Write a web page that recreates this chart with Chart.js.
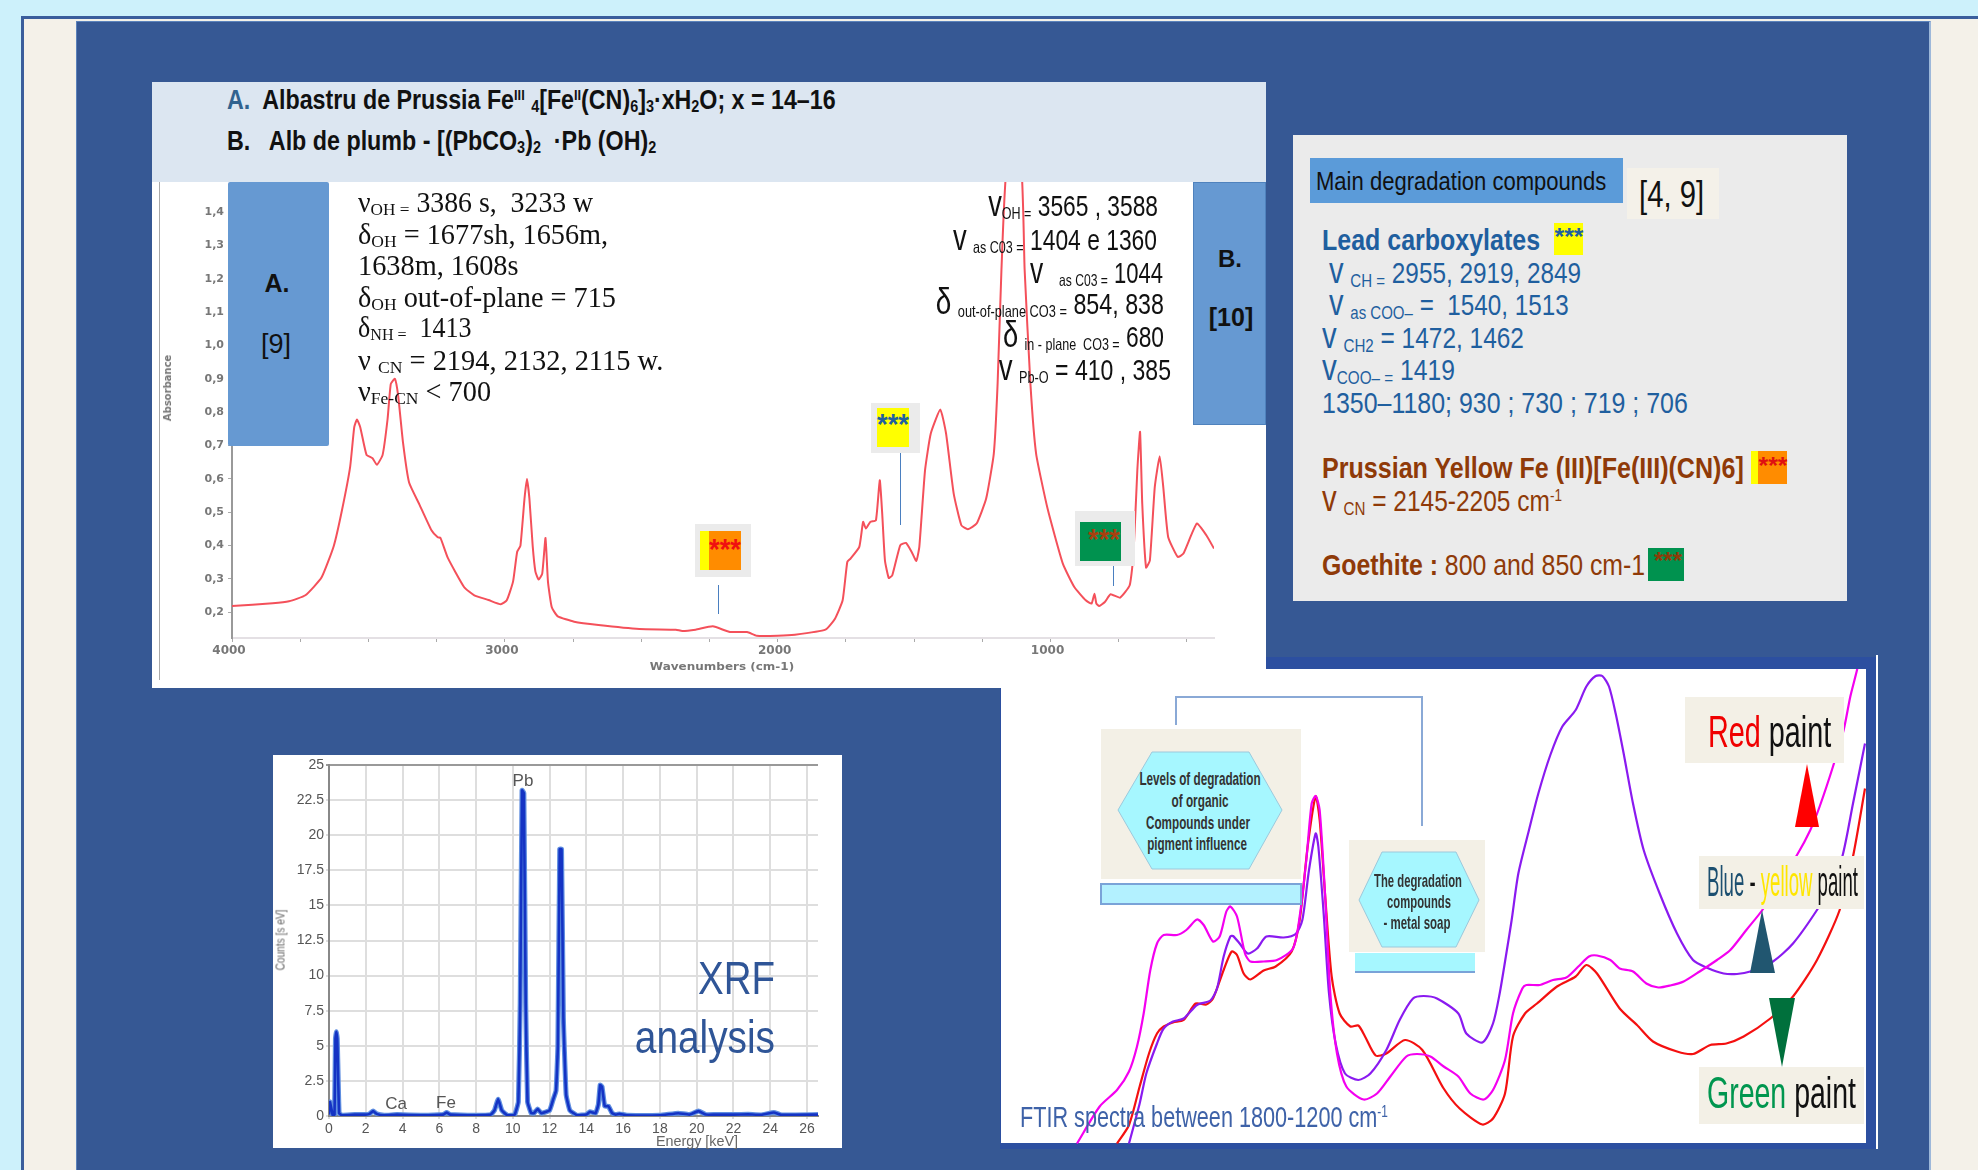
<!DOCTYPE html>
<html>
<head>
<meta charset="utf-8">
<title>FTIR and XRF analysis</title>
<script src="https://cdn.jsdelivr.net/npm/chart.js@4"></script>
<style>
    html, body { margin: 0; padding: 0; width: 1978px; height: 1170px; overflow: hidden; background: #cdf1fb; }
    body { position: relative; font-family: "Liberation Sans", Arial, sans-serif; }
    .box, .t, canvas { position: absolute; }
    .t { white-space: pre; line-height: 1; transform: translateY(-50%) scaleX(var(--k, 1)); transform-origin: left center; }
    .r { transform: translate(-100%, -50%) scaleX(var(--k, 1)); transform-origin: right center; }
    .c { transform: translate(-50%, -50%) scaleX(var(--k, 1)); transform-origin: center; text-align: center; }
    .serif { font-family: "Liberation Serif", serif; font-size: 28.5px; color: #111; }
    .blk { font-size: 30px; color: #111; }
    .blk sub { font-size: 55%; }
    .blue { font-size: 30px; color: #1f5f9f; }
    .brown { font-size: 30px; color: #8f3a08; }
    .mono { font-family: "DejaVu Sans", sans-serif; font-weight: bold; font-size: 11px; color: #777; }
    .big { font-size: 1.2em; }
    sub { font-size: 62%; vertical-align: -0.2em; line-height: 0; }
    sup { font-size: 55%; vertical-align: 0.6em; line-height: 0; }
    .hex { font-size: 19px; font-weight: bold; color: #333; }
    .star { font-weight: bold; font-size: 30px; }
</style>
</head>
<body>
<div class="box" style="left:21px;top:16px;width:1957px;height:1154px;background:#f4f1e9;border-left:3px solid #3a5e9c;border-top:3px solid #3a5e9c;box-sizing:border-box"></div>
<div class="box" style="left:76px;top:21px;width:1855px;height:1149px;background:#365894;border-left:1px solid #5b82bb;border-right:2px solid #9db8da;border-top:1px solid #5b82bb;box-sizing:border-box"></div>

<!-- FTIR frame sits under the first panel -->
<div class="box" style="left:1000px;top:657px;width:876px;height:492px;background:#2c4fa0"></div>
<div class="box" style="left:1876px;top:655px;width:2px;height:494px;background:#fff"></div>
<div class="box" style="left:1001px;top:669px;width:865px;height:474px;background:#fff"></div>

<!-- panel 1 -->
<div class="box" style="left:152px;top:82px;width:1114px;height:100px;background:#dce6f1"></div>
<div class="box" style="left:152px;top:182px;width:1114px;height:506px;background:#fff"></div>
<div class="box" style="left:159px;top:182px;width:1px;height:498px;background:#aaa"></div>
<canvas id="spectrumChart" width="1114" height="506" style="left:152px;top:182px"></canvas>

<div class="t" data-w="609" style="left:227px;top:100px;font-size:28px;font-weight:bold;color:#111"><span style="color:#31628f">A.</span>  Albastru de Prussia Fe<sup>III</sup> <sub>4</sub>[Fe<sup>II</sup>(CN)<sub>6</sub>]<sub>3</sub>·xH<sub>2</sub>O; x = 14–16</div>
<div class="t" data-w="429" style="left:227px;top:141px;font-size:28px;font-weight:bold;color:#111">B.   Alb de plumb - [(PbCO<sub>3</sub>)<sub>2</sub>  ·Pb (OH)<sub>2</sub></div>

<div class="box" style="left:228px;top:182px;width:101px;height:264px;background:#6699d2;border-radius:2px"></div>
<div class="t c" style="left:277px;top:283px;font-size:25px;font-weight:bold;color:#111">A.</div>
<div class="t c" style="left:276px;top:344px;font-size:27px;color:#111">[9]</div>
<div class="box" style="left:1193px;top:182px;width:73px;height:243px;background:#6699d2;border:1px solid #4f82bd;box-sizing:border-box"></div>
<div class="t c" style="left:1230px;top:259px;font-size:24px;font-weight:bold;color:#111">B.</div>
<div class="t c" style="left:1231px;top:317px;font-size:25px;font-weight:bold;color:#111">[10]</div>

<div class="t serif" data-w="235" style="left:358px;top:203px">ν<sub>OH =</sub> 3386 s,  3233 w</div>
<div class="t serif" data-w="250" style="left:358px;top:235px">δ<sub>OH</sub> = 1677sh, 1656m,</div>
<div class="t serif" data-w="161" style="left:358px;top:266px">1638m, 1608s</div>
<div class="t serif" data-w="258" style="left:358px;top:298px">δ<sub>OH</sub> out-of-plane = 715</div>
<div class="t serif" data-w="114" style="left:358px;top:328px">δ<sub>NH =</sub>  1413</div>
<div class="t serif" data-w="305" style="left:358px;top:361px">ν <sub>CN</sub> = 2194, 2132, 2115 w.</div>
<div class="t serif" data-w="133" style="left:358px;top:392px">ν<sub>Fe-CN</sub> &lt; 700</div>

<div class="t r blk" data-w="170" style="left:1158px;top:204px"><span class="big">v</span><sub>OH =</sub> 3565 , 3588</div>
<div class="t r blk" data-w="204" style="left:1157px;top:238px"><span class="big">v</span> <sub>as C03 =</sub> 1404 e 1360</div>
<div class="t r blk" data-w="133" style="left:1163px;top:271px"><span class="big">v</span>  <sub> as C03 =</sub> 1044</div>
<div class="t r blk" data-w="228" style="left:1164px;top:302px"><span class="big">δ</span> <sub>out-of-plane CO3 =</sub> 854, 838</div>
<div class="t r blk" data-w="161" style="left:1164px;top:335px"><span class="big">δ</span> <sub>in - plane  CO3 =</sub> 680</div>
<div class="t r blk" data-w="172" style="left:1171px;top:368px"><span class="big">v</span> <sub>Pb-O</sub> = 410 , 385</div>

<div class="t mono" style="left:168px;top:388px;transform:translate(-50%,-50%) rotate(-90deg);transform-origin:center;font-size:10px">Absorbance</div>
<div class="t mono c" data-w="144" style="left:722px;top:666px">Wavenumbers (cm-1)</div>

<div class="box" style="left:695px;top:524px;width:56px;height:53px;background:#ebebeb"></div>
<div class="box" style="left:700px;top:531px;width:9px;height:39px;background:#ffff00"></div>
<div class="box" style="left:709px;top:531px;width:32px;height:39px;background:#ff8c00"></div>
<div class="t c star" data-w="32" style="left:725px;top:549px;color:#f01010">***</div>
<div class="box" style="left:718px;top:585px;width:1px;height:29px;background:#4a7fc0"></div>

<div class="box" style="left:871px;top:403px;width:49px;height:50px;background:#ebebeb"></div>
<div class="box" style="left:877px;top:408px;width:32px;height:39px;background:#ffff00"></div>
<div class="t c star" data-w="32" style="left:893px;top:424px;color:#1f5f9f">***</div>
<div class="box" style="left:900px;top:453px;width:1px;height:72px;background:#4a7fc0"></div>

<div class="box" style="left:1075px;top:511px;width:60px;height:55px;background:#ebebeb"></div>
<div class="box" style="left:1080px;top:522px;width:41px;height:39px;background:#00924f"></div>
<div class="t c star" data-w="32" style="left:1104px;top:539px;color:#a8400f">***</div>
<div class="box" style="left:1113px;top:566px;width:1px;height:20px;background:#4a7fc0"></div>

<!-- degradation compounds -->
<div class="box" style="left:1293px;top:135px;width:554px;height:466px;background:#ebebeb"></div>
<div class="box" style="left:1310px;top:158px;width:313px;height:45px;background:#5b9bd9"></div>
<div class="t" data-w="290" style="left:1316px;top:181px;font-size:25px;color:#111">Main degradation compounds</div>
<div class="box" style="left:1627px;top:168px;width:92px;height:51px;background:#f4f1e9"></div>
<div class="t" data-w="65" style="left:1639px;top:195px;font-size:36px;color:#111">[4, 9]</div>

<div class="t blue" data-w="218" style="left:1322px;top:240px;font-weight:bold;font-size:29px">Lead carboxylates</div>
<div class="box" style="left:1554px;top:223px;width:29px;height:32px;background:#ffff00"></div>
<div class="t c star" data-w="29" style="left:1569px;top:237px;font-size:24px;color:#1f5f9f">***</div>
<div class="t blue" data-w="252" style="left:1329px;top:271px"><span class="big">v</span> <sub>CH =</sub> 2955, 2919, 2849</div>
<div class="t blue" data-w="240" style="left:1329px;top:303px"><span class="big">v</span> <sub>as COO–</sub> =  1540, 1513</div>
<div class="t blue" data-w="202" style="left:1322px;top:336px"><span class="big">v</span> <sub>CH2</sub> = 1472, 1462</div>
<div class="t blue" data-w="133" style="left:1322px;top:368px"><span class="big">v</span><sub>COO– =</sub> 1419</div>
<div class="t blue" data-w="366" style="left:1322px;top:403px">1350–1180; 930 ; 730 ; 719 ; 706</div>

<div class="t brown" data-w="422" style="left:1322px;top:468px;font-weight:bold;font-size:29px">Prussian Yellow Fe (III)[Fe(III)(CN)6]</div>
<div class="box" style="left:1751px;top:451px;width:7px;height:33px;background:#ffff00"></div>
<div class="box" style="left:1758px;top:451px;width:29px;height:33px;background:#ff8c00"></div>
<div class="t c star" data-w="29" style="left:1773px;top:466px;font-size:24px;color:#e01010">***</div>
<div class="t brown" data-w="240" style="left:1322px;top:499px"><span class="big">v</span> <sub>CN</sub> = 2145-2205 cm<sup>-1</sup></div>
<div class="t brown" data-w="323" style="left:1322px;top:565px"><b>Goethite :</b> 800 and 850 cm-1</div>
<div class="box" style="left:1648px;top:548px;width:36px;height:33px;background:#00924f"></div>
<div class="t c star" data-w="28" style="left:1668px;top:561px;font-size:24px;color:#8f3a08">***</div>

<!-- XRF -->
<div class="box" style="left:273px;top:755px;width:569px;height:393px;background:#fff"></div>
<canvas id="xrfChart" width="569" height="393" style="left:273px;top:755px"></canvas>
<div class="t" style="left:280px;top:940px;transform:translate(-50%,-50%) rotate(-90deg) scaleX(0.78);transform-origin:center;font-size:13px;color:#666">Counts [s eV]</div>
<div class="t c" data-w="82" style="left:697px;top:1141px;font-size:14px;color:#666">Energy [keV]</div>
<div class="t c" style="left:523px;top:780px;font-size:17px;color:#555">Pb</div>
<div class="t c" style="left:396px;top:1103px;font-size:17px;color:#555">Ca</div>
<div class="t c" style="left:446px;top:1102px;font-size:17px;color:#555">Fe</div>
<div class="t r" data-w="77" style="left:775px;top:978px;font-size:46px;color:#2f5597">XRF</div>
<div class="t r" data-w="140" style="left:775px;top:1037px;font-size:46px;color:#2f5597">analysis</div>

<!-- FTIR -->
<canvas id="ftirChart" width="863" height="475" style="left:1003px;top:669px"></canvas>
<svg class="box" style="left:0;top:0" width="1978" height="1170">
    <polyline points="1176,725 1176,697 1422,697 1422,826" fill="none" stroke="#8aa9d6" stroke-width="2"/>
    <rect x="1101" y="729" width="200" height="150" fill="#f3f0e6"/>
    <polygon points="1118,810 1152,752 1249,752 1282,810 1249,869 1152,869" fill="#a6f7ff" stroke="#9cc9dc"/>
    <rect x="1101" y="884" width="200" height="20" fill="#b3f1ff" stroke="#7aa3d8" stroke-width="2"/>
    <rect x="1349" y="840" width="136" height="112" fill="#f3f0e6"/>
    <polygon points="1359,900 1382,852 1456,852 1479,900 1456,947 1382,947" fill="#a6f7ff" stroke="#9cc9dc"/>
    <rect x="1355" y="953" width="120" height="20" fill="#a6f7ff"/>
    <rect x="1355" y="971" width="120" height="2" fill="#7aa3d8"/>
    <rect x="1685" y="697" width="159" height="66" fill="#f3f0e6"/>
    <polygon points="1807,764 1795,827 1819,827" fill="#ff0000"/>
    <rect x="1699" y="856" width="165" height="53" fill="#f3f0e6"/>
    <polygon points="1762,910 1750,973 1775,973" fill="#215670"/>
    <polygon points="1769,998 1795,998 1782,1067" fill="#00703c"/>
    <rect x="1699" y="1067" width="165" height="57" fill="#f3f0e6"/>
</svg>
<div class="t c hex" data-w="121" style="left:1200px;top:778px">Levels of degradation</div>
<div class="t c hex" data-w="57" style="left:1200px;top:800px">of organic</div>
<div class="t c hex" data-w="104" style="left:1198px;top:822px">Compounds under</div>
<div class="t c hex" data-w="100" style="left:1197px;top:843px">pigment influence</div>
<div class="t c hex" data-w="88" style="left:1418px;top:880px">The degradation</div>
<div class="t c hex" data-w="64" style="left:1419px;top:901px">compounds</div>
<div class="t c hex" data-w="67" style="left:1417px;top:922px">- metal soap</div>
<div class="t" data-w="368" style="left:1020px;top:1117px;font-size:30px;color:#3e62a8">FTIR spectra between 1800-1200 cm<sup>-1</sup></div>
<div class="t" data-w="123" style="left:1708px;top:732px;font-size:44px;color:#111"><span style="color:#f00000">Red</span> paint</div>
<div class="t" data-w="151" style="left:1707px;top:882px;font-size:42px;color:#111"><span style="color:#1c4f70">Blue</span> - <span style="color:#ffe600">yellow</span> paint</div>
<div class="t" data-w="149" style="left:1707px;top:1093px;font-size:44px;color:#111"><span style="color:#00964f">Green</span> paint</div>

<script>
// Panel 1: absorbance spectrum
const spectrumWavenumbers = [4000,3851,3791,3731,3672,3627,3597,3567,3552,3542,3530,3507,3485,3469,3448,3430,3418,3403,3391,3373,3351,3313,3269,3246,3236,3209,3149,3112,3060,3015,2993,2970,2955,2943,2928,2919,2910,2898,2888,2876,2863,2851,2842,2828,2806,2746,2657,2507,2373,2350,2301,2238,2175,2112,2077,2000,1937,1825,1790,1762,1745,1733,1701,1687,1677,1661,1640,1626,1617,1607,1593,1580,1551,1530,1509,1492,1481,1460,1439,1404,1383,1355,1327,1303,1271,1236,1208,1194,1180,1159,1109,1095,1074,1053,1011,955,913,871,850,839,832,822,801,780,745,710,696,682,672,664,650,636,618,600,587,569,534,513,464,429,401];
const spectrumAbsorbance = [.219,.227,.233,.251,.304,.399,.506,.636,.755,.778,.755,.672,.662,.642,.672,.778,.885,.90,.849,.707,.589,.523,.446,.425,.423,.363,.275,.251,.237,.224,.236,.292,.381,.399,.541,.60,.541,.399,.322,.298,.316,.423,.292,.215,.188,.172,.162,.15,.148,.144,.148,.158,.141,.141,.13,.13,.133,.148,.181,.236,.351,.361,.396,.471,.451,.471,.476,.596,.496,.356,.303,.311,.401,.408,.381,.354,.396,.626,.736,.808,.736,.556,.461,.449,.466,.541,.676,.887,1.227,1.55,1.55,1.227,.887,.676,.511,.346,.276,.236,.226,.256,.226,.219,.231,.254,.244,.281,.376,.626,.741,.526,.334,.356,.576,.668,.576,.426,.366,.376,.466,.431,.391];
const spectrumXTicks = [4000,3750,3500,3250,3000,2750,2500,2250,2000,1750,1500,1250,1000,750,500];
const spectrumYTicks = [.2,.3,.4,.5,.6,.7,.8,.9,1,1.1,1.2,1.3,1.4];

// Panel 2: XRF spectrum
const xrfEnergy = [0,.05,.15,.2,.3,.35,.4,.45,.55,.7,1.4,2,2.2,2.4,2.6,3,3.7,5,6.2,6.4,6.6,8,8.8,9,9.2,9.4,9.7,10.1,10.3,10.4,10.5,10.6,10.7,10.8,11,11.15,11.35,11.55,12,12.2,12.35,12.45,12.55,12.65,12.75,12.9,13.1,13.5,14,14.2,14.5,14.65,14.75,14.85,15,15.2,15.4,15.6,15.8,16.2,18,19,19.6,20.1,20.5,21,22,22.8,23.5,24.2,24.6,26.6];
const xrfCounts = [.1,1,.4,.05,.1,5.5,6,5.5,.2,.05,.1,.1,.15,.35,.15,.05,.1,.05,.1,.25,.1,.05,.1,.4,1.2,.4,.05,.1,1,8,23.2,23,8,1,.2,.2,.5,.2,.4,1.2,1.8,5,19,19,7,1.5,.4,.05,.1,.3,.2,.8,2.2,2.1,.7,.7,.2,.1,.15,.05,.05,.2,.1,.35,.1,.1,.1,.12,.08,.25,.08,.1];
const xrfXTicks = [0,2,4,6,8,10,12,14,16,18,20,22,24,26];
const xrfYTicks = [0,2.5,5,7.5,10,12.5,15,17.5,20,22.5,25];

// Panel 3: FTIR, relative absorbance
const redPaintWavenumbers = [1800,1783,1770,1761,1755,1750,1745,1740,1735,1725,1718,1710,1705,1698,1693,1688,1685,1680,1674,1670,1660,1650,1638,1633,1628,1624,1621,1618,1614,1610,1605,1598,1585,1575,1565,1553,1545,1535,1525,1514,1505,1495,1488,1479,1473,1466,1463,1453,1443,1433,1424,1416,1410,1400,1393,1383,1373,1364,1355,1345,1333,1320,1310,1298,1286,1274,1260,1250,1243,1233,1225,1220,1215,1212];
const redPaintValues = [.1,7.5,10.8,14.5,19.5,26.1,34.8,40.1,41.8,41.8,42.8,44.9,43.8,40.5,41.5,46.5,47.5,45.5,38.1,36.5,36.5,36.8,39.1,45.5,56.8,68.1,69.6,66.8,50.1,30.1,18.1,11.5,8.9,10.1,13.5,17.5,18,17.5,15.5,13.5,10.1,8.9,10.8,16.8,26.1,31.1,31.8,31.8,32.8,33.3,35.5,37.5,37.7,36.8,35.1,34.5,32.1,31.3,31.7,32.5,34.5,36.8,38.8,42.8,46.8,52.1,57.8,62.8,67.5,75.5,82.8,89.5,94.8,98.8];
const bluePaintWavenumbers = [1761,1753,1748,1740,1735,1728,1720,1710,1700,1695,1690,1685,1683,1678,1672,1665,1658,1645,1636,1631,1626,1621,1619,1615,1611,1606,1599,1589,1580,1568,1558,1548,1540,1530,1514,1508,1496,1488,1483,1478,1474,1469,1461,1454,1445,1436,1426,1418,1411,1406,1401,1396,1390,1383,1375,1363,1350,1338,1328,1315,1305,1295,1278,1263,1245,1235,1226,1218,1209];
const bluePaintValues = [.1,8.1,14.1,20.1,23.1,24.5,25.1,27.8,28.7,31.1,37.5,41.5,41.6,40.1,38.1,39.1,41.5,41.3,42,44.8,54.8,62.1,59.5,46.1,30.1,20.1,14.1,12.8,14.1,18.8,24.8,29.1,29.6,29.1,26.1,22.1,20.3,24.1,30.1,38.1,44.8,54.1,62.8,70.1,77.8,83.5,86.8,91.5,93.6,93.6,91.5,86.1,78.1,68.1,58.8,50.1,42.1,36.8,35.3,34.1,34,34.5,36.5,40.1,46.8,51.5,57.5,68.1,80.1];
const greenPaintWavenumbers = [1770,1761,1753,1746,1740,1735,1728,1720,1711,1703,1698,1690,1684,1680,1675,1670,1660,1651,1639,1633,1627,1621,1618,1614,1609,1603,1595,1589,1584,1576,1568,1554,1541,1525,1513,1496,1488,1479,1473,1464,1455,1440,1426,1418,1410,1393,1380,1368,1350,1338,1325,1313,1300,1280,1263,1245,1228,1218,1209];
const greenPaintValues = [.1,3.8,11.5,18.1,22.1,23.5,24.3,24.8,28.1,27.9,29.1,34.8,38.5,37.8,34.1,32.9,34.7,35.5,38.5,44.8,59.5,69.5,64.8,50.1,33.5,26.1,23.5,23.7,21.5,17.7,18.1,20.8,18.8,11.1,7.1,3.9,5.1,10.1,21.5,26.1,28.1,31.5,33.5,35.8,34.1,27.1,23.8,20.5,18.5,18,19.8,20.1,21.5,25.1,29.5,36.8,46.8,57.5,71.1];

function toPoints(xs, ys) {
    return xs.map((x, i) => ({ x: x, y: ys[i] }));
}

// Scale paddings still inset the plot with autoPadding off, so clear them too
function clearPadding(scale) {
    scale.paddingTop = 0;
    scale.paddingBottom = 0;
    scale.paddingLeft = 0;
    scale.paddingRight = 0;
}

function fixedWidth(width) {
    return scale => { scale.width = width; clearPadding(scale); };
}

function fixedHeight(height) {
    return scale => { scale.height = height; clearPadding(scale); };
}

function useTicks(values) {
    return scale => { scale.ticks = values.map(v => ({ value: v })); };
}

// Squeeze text to the width it has in the picture, no narrow font is installed
document.querySelectorAll('[data-w]').forEach(el => {
    el.style.setProperty('--k', Number(el.dataset.w) / el.offsetWidth);
});

const baseOptions = {
    responsive: false,
    animation: false,
    plugins: { legend: { display: false }, tooltip: { enabled: false } },
    elements: { point: { radius: 0 } }
};

new Chart(document.getElementById('spectrumChart').getContext('2d'), {
    type: 'line',
    data: {
        datasets: [{ data: toPoints(spectrumWavenumbers, spectrumAbsorbance), borderColor: '#f4505a', borderWidth: 2, tension: 0.15 }]
    },
    options: {
        ...baseOptions,
        layout: { autoPadding: false, padding: { right: 52 } },
        scales: {
            x: {
                type: 'linear', reverse: true, min: 401, max: 4000,
                afterFit: fixedHeight(50),
                afterBuildTicks: useTicks(spectrumXTicks),
                border: { color: '#e4e0e4', width: 2 },
                grid: { drawOnChartArea: false, tickLength: 4, color: '#aaa' },
                ticks: {
                    maxRotation: 0, autoSkip: false, padding: 2, labelOffset: -3, color: '#777',
                    font: { family: 'DejaVu Sans', size: 12, weight: 'bold' },
                    callback: v => (v % 1000 === 0 ? v : '')
                }
            },
            y: {
                type: 'linear', min: 0.123, max: 1.49,
                afterFit: fixedWidth(80),
                afterBuildTicks: useTicks(spectrumYTicks),
                border: { color: '#999', dash: [2, 3], width: 2 },
                grid: { drawOnChartArea: false, tickLength: 4, color: '#aaa' },
                ticks: {
                    autoSkip: false, padding: 4, color: '#777',
                    font: { family: 'DejaVu Sans', size: 11, weight: 'bold' },
                    callback: v => v.toFixed(1).replace('.', ',')
                }
            }
        }
    }
});

new Chart(document.getElementById('xrfChart').getContext('2d'), {
    type: 'line',
    data: {
        datasets: [
            { data: toPoints(xrfEnergy, xrfCounts), borderColor: '#1433c4', borderWidth: 2.6, tension: 0.1 },
            { data: toPoints(xrfEnergy, xrfCounts), borderColor: '#5f8ee0', borderWidth: 5, tension: 0.1 }
        ]
    },
    options: {
        ...baseOptions,
        layout: { autoPadding: false, padding: { top: 10, right: 24 } },
        scales: {
            x: {
                type: 'linear', min: 0, max: 26.6,
                afterFit: fixedHeight(32),
                afterBuildTicks: useTicks(xrfXTicks),
                border: { color: '#888', width: 2 },
                grid: { color: '#dedede', lineWidth: 2, tickLength: 3 },
                ticks: {
                    maxRotation: 0, autoSkip: false, padding: 2, color: '#555',
                    font: { family: 'Liberation Sans', size: 14 }
                }
            },
            y: {
                type: 'linear', min: 0, max: 25,
                afterFit: fixedWidth(56),
                afterBuildTicks: useTicks(xrfYTicks),
                border: { color: '#888', width: 2 },
                grid: { color: ctx => (ctx.tick.value === 25 ? '#999' : '#dedede'), lineWidth: 2, tickLength: 3 },
                ticks: { autoSkip: false, padding: 2, color: '#555', font: { family: 'Liberation Sans', size: 14 } }
            }
        }
    }
});

new Chart(document.getElementById('ftirChart').getContext('2d'), {
    type: 'line',
    data: {
        datasets: [
            { data: toPoints(redPaintWavenumbers, redPaintValues), borderColor: '#f400f0', borderWidth: 2.2, tension: 0.25 },
            { data: toPoints(bluePaintWavenumbers, bluePaintValues), borderColor: '#8a1af0', borderWidth: 2.2, tension: 0.25 },
            { data: toPoints(greenPaintWavenumbers, greenPaintValues), borderColor: '#f41010', borderWidth: 2.2, tension: 0.25 }
        ]
    },
    options: {
        ...baseOptions,
        layout: { autoPadding: false },
        scales: {
            x: { type: 'linear', display: false, reverse: true, min: 1208.25, max: 1855.5 },
            y: { type: 'linear', display: false, min: 0, max: 95 }
        }
    }
});
</script>
</body>
</html>
